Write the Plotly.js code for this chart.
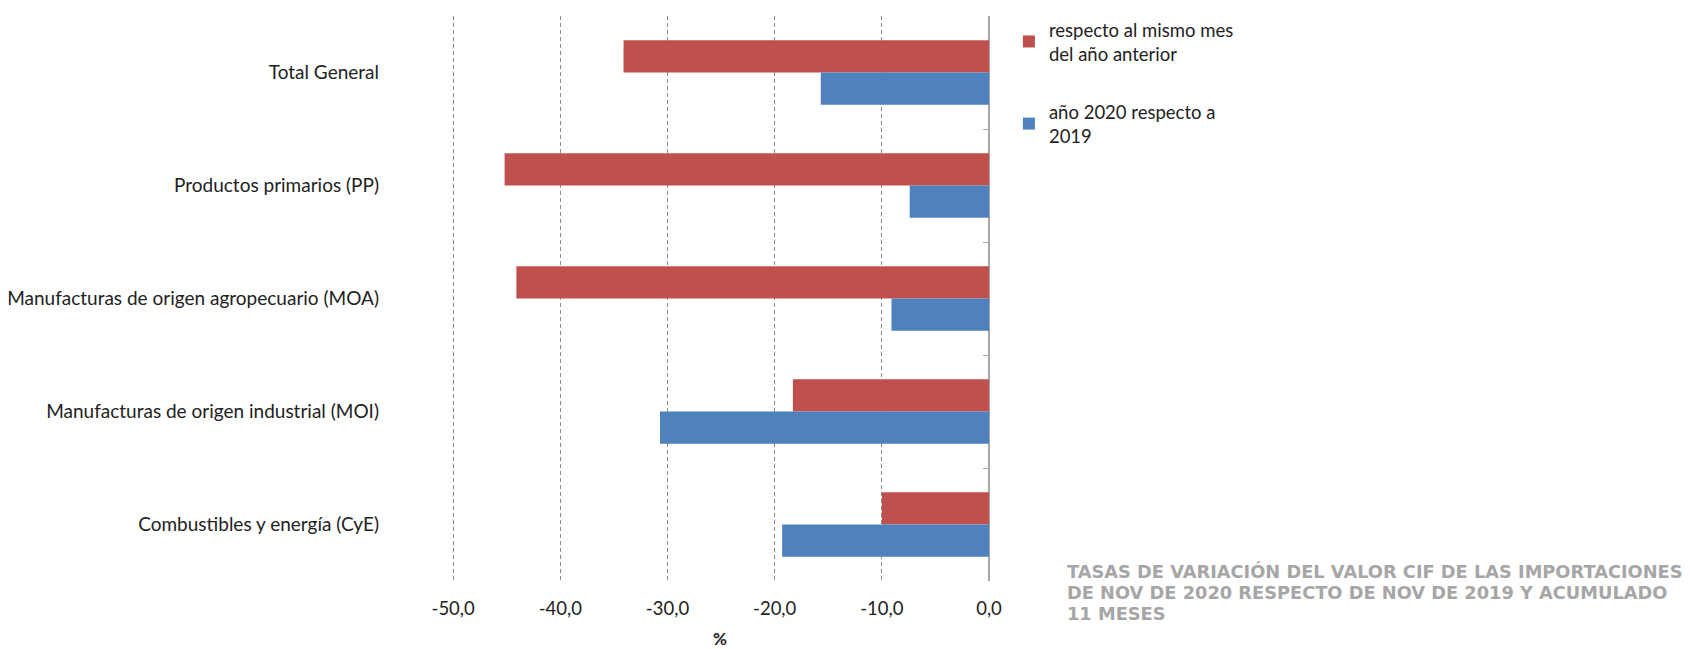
<!DOCTYPE html>
<html>
<head>
<meta charset="utf-8">
<script src="https://cdn.plot.ly/plotly-3.0.1.min.js"></script>
<style>html,body{margin:0;padding:0;background:#fff;}#chart{width:1690px;height:649px;}</style>
</head>
<body>
<div id="chart"></div>
<script>
const categories = [
  "Total General",
  "Productos primarios (PP)",
  "Manufacturas de origen agropecuario (MOA)",
  "Manufacturas de origen industrial (MOI)",
  "Combustibles y energía (CyE)"
];
const seriesMesName = "respecto al mismo mes<br>del año anterior";
const seriesAcumName = "año 2020 respecto a<br>2019";
const valuesMes = [-34.1, -45.2, -44.1, -18.3, -10.0];
const valuesAcum = [-15.7, -7.4, -9.1, -30.7, -19.3];
const xTickVals = [-50, -40, -30, -20, -10, 0];
const xTickText = ["-50,0", "-40,0", "-30,0", "-20,0", "-10,0", "0,0"];
const titleLines = [
  "TASAS DE VARIACIÓN DEL VALOR CIF DE LAS IMPORTACIONES",
  "DE NOV DE 2020 RESPECTO DE NOV DE 2019 Y ACUMULADO",
  "11 MESES"
];

const baseFont = "Lato, 'Open Sans', sans-serif";
const titleFont = "'DejaVu Sans', 'Open Sans', sans-serif";
const barW = 0.285;

const traces = [
  {
    type: "bar", orientation: "h",
    y: categories, x: valuesMes, yaxis: "y",
    width: barW, offset: -barW,
    name: seriesMesName, legendgroup: "a",
    marker: {color: "#C0504D", line: {width: 0}},
    hoverinfo: "skip"
  },
  {
    type: "bar", orientation: "h",
    y: categories, x: valuesAcum, yaxis: "y2",
    width: barW, offset: 0,
    name: seriesAcumName, legendgroup: "b",
    marker: {color: "#4F81BD", line: {width: 0}},
    hoverinfo: "skip"
  }
];

const titleY = [0.017, -0.020, -0.058];
const annotations = titleLines.map((t, i) => ({
  xref: "paper", yref: "paper", x: 1.141, y: titleY[i],
  xanchor: "left", yanchor: "middle", align: "left", showarrow: false,
  text: "<b>" + t + "</b>",
  font: {family: titleFont, size: 17.8, color: "#a6a6a6"}
}));

const layout = {
  width: 1690, height: 649,
  margin: {l: 451, r: 701, t: 11, b: 68, pad: 0},
  paper_bgcolor: "#ffffff", plot_bgcolor: "#ffffff",
  barmode: "overlay",
  font: {family: baseFont, size: 17, color: "#222222"},
  showlegend: true,
  legend: {
    x: 1.037, y: 1.009, xanchor: "left", yanchor: "top",
    traceorder: "grouped", tracegroupgap: 31,
    font: {family: baseFont, size: 18.5, color: "#222222"},
    bgcolor: "rgba(0,0,0,0)", itemwidth: 30
  },
  xaxis: {
    range: [-50.2, 0], tickvals: xTickVals, ticktext: xTickText,
    showgrid: true, gridcolor: "#8c8c8c", griddash: "4px,3px", gridwidth: 1,
    zeroline: true, zerolinecolor: "#a6a6a6", zerolinewidth: 1.3,
    showline: false, ticks: "outside", ticklen: 11, tickcolor: "rgba(0,0,0,0)",
    tickfont: {family: baseFont, size: 18.5, color: "#222222"},
    title: {text: "<b>%</b>", font: {family: baseFont, size: 17, color: "#222222"}, standoff: 31},
    fixedrange: true
  },
  yaxis: {
    type: "category", autorange: "reversed",
    showgrid: false, zeroline: false, showline: false,
    ticks: "", ticklabelstandoff: 71,
    tickfont: {family: baseFont, size: 19, color: "#222222"},
    automargin: false, fixedrange: true
  },
  yaxis2: {
    type: "category", matches: "y", overlaying: "y", side: "right", anchor: "x",
    autorange: "reversed",
    tickson: "boundaries", showticklabels: false,
    ticks: "inside", ticklen: 6, tickcolor: "#a6a6a6", tickwidth: 1,
    showline: false,
    showgrid: false, zeroline: false, fixedrange: true
  },
  annotations: annotations
};

Plotly.newPlot("chart", traces, layout, {displayModeBar: false, staticPlot: true});
</script>
</body>
</html>
